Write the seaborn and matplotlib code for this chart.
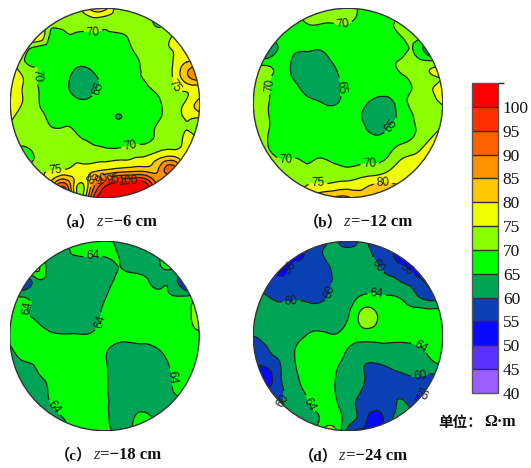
import numpy as np
import matplotlib
matplotlib.use("Agg")
import matplotlib.pyplot as plt
import matplotlib.tri as mtri
from matplotlib.patches import Circle
from matplotlib.cm import ScalarMappable
from matplotlib.colors import BoundaryNorm, ListedColormap
import seaborn as sns

sns.set_theme(style="white")

levels = [40, 45, 50, 55, 60, 65, 70, 75, 80, 85, 90, 95, 100, 110]
band_colors = ["#9a60ff", "#5a30ff", "#0808ff", "#0a40b4", "#00a456", "#00ff00", "#8cff00",
               "#f0ff00", "#ffc800", "#ff9000", "#ff6000", "#ff3000", "#ff0000"]

captions = ["（a）", "（b）", "（c）", "（d）"]
depths = ["=−6 cm", "=−12 cm", "=−18 cm", "=−24 cm"]

res_a = [
 [72,72,72,72,72,74,82,82,72,72,72,72,72,72,72],
 [72,72,72,72,72,72,72.5,72,72,72,72,69,72,72,72],
 [72,72,80,69,69,69.5,69.7,69.5,69.5,71,72,72,75,75.5,76],
 [72,72,68,68,68,68,68,68,68,70,72,73,75.3,76,78],
 [78,70.5,68.5,67.5,67,66,66.5,67.5,68,69,71,73,75,80,80],
 [80,74.5,70,68,66.5,63.5,64,66.5,68,69.5,70.5,73,75.3,84,88],
 [80,74.5,70.3,68,66,63.5,64,66,67.5,68,69.3,71,74,76,76],
 [80,74.5,70.5,68,67,66,66,67,67.5,68,68,69.5,73,76,84],
 [78,71.5,71,69,68.5,68.5,67.5,67,64.8,67,68,69.5,73,75.5,76],
 [72,72,72,70.5,70.3,69.5,68,68,67.5,68,68.5,71,73,75,72],
 [72,71,72,72,71.5,71,70,68.8,68.5,69.5,70,72,73.5,76,78],
 [68,67,71,73,73.5,73,72.5,73.5,74,74.5,75.5,79,81,76,74],
 [72,72,74,75,76,77,79,81,83,84,84,86,92,75,74],
 [74,74,76,82,92,75,85,98,103,104,102,86,78,74,74],
 [74,74,78,92,104,70,92,104,106,106,104,88,78,74,74],
]
res_b = [
 [68,68,68,68,72,72,72,72,69,68,68,72,75,75,75],
 [68,68,68,68,70.5,70.5,70.5,70.5,68.5,68,69.5,71,74,75,75],
 [68,68,68,67.5,67.5,67.5,67.5,67.5,67.5,68,68.5,70.5,72,70,68],
 [62,60,66,66,65.5,65.3,67,67.5,67.5,68,68.5,68.5,69,60,60],
 [71,68,68,64,63,63,65.5,67,67.5,68,69,71,71.5,71.5,76],
 [72,71,68,64.5,63,62.5,64,67,67.5,68,69,69.7,71.5,74.5,76],
 [72,70.7,68,66.5,63.5,62.5,63.5,66.5,67,67.5,68,69,70.5,74,78],
 [72,70.5,68,67.5,66.5,65.2,64.6,66.5,66,63.5,63,68.5,70.5,72,76],
 [72,70.5,68,67.5,67.5,67,67,67,65,62.5,63,67,70.5,72,73],
 [72,70.5,68,68,68,67.5,67.5,67.5,66.5,63.5,65.3,67.5,70,73,76],
 [72,70.2,68.5,68,68,68,68,68,68,68,68.5,70,72,76,78],
 [71,71,69.8,69.9,69.5,69.9,69,68.5,69,69.3,70.3,74.5,76,78,78],
 [72,72,71,71,71,71.5,71.5,71,72,72.5,75,78.5,78,78,78],
 [72,72,72,72.5,74.8,75.5,76,77,78,80.3,80.5,80,80,80,80],
 [72,72,72,73,78,84,86,86,82,86,84,82,80,80,80],
]
res_c = [
 [62,62,62,62,62,67,67,67,63.5,63,63,63,63,63,63],
 [62,62,62,62,64,65.3,65.3,65.5,65,63,63,64,78,62,62],
 [62,62,71,62,63,63,63,63,65,64,63.5,64,66,60,60],
 [58,55,63,63,63,63,63,63.5,66,67,66,64,63,54,54],
 [66,64,63,62.5,62.5,62.5,63,64.5,67,67.5,67.5,66.5,65,64.5,67],
 [67,65.5,64,63,63,63,63.5,65.5,67,67.5,67.5,67.5,67.5,68,76],
 [68,67,65.2,63.5,63,63,63.5,65.8,67,67.5,67.5,67.5,67.5,68,74],
 [67,67,67,65.8,65.5,65.5,65.6,66.5,66.5,66.5,67,67.5,67.5,67.5,68],
 [64,67,67,67,67.5,67.5,67,65.7,63.5,63.5,63.5,65,67,67.5,67.5],
 [62,64.5,65.5,67,67.5,67.5,67,65.5,63,62.5,62.5,63,66,67.5,67.5],
 [62,63,64.5,66,67.5,67.5,67,65.7,63,62.5,62.5,63,65,67.5,67.5],
 [62,62.5,63,65.5,67,67.5,67,65.7,63,62.5,62.5,63,64.9,67,67.5],
 [62,62,62.5,64.8,67,67.5,67,65.8,63,62.5,62.5,62.5,63,64,67],
 [62,62,62,62.5,65.3,67.5,67,65.8,63,64,67,62,62,62,62],
 [62,62,62,62,62,71,66,66,63,65,70,62,62,62,62],
]
res_d = [
 [58,58,58,58,58,58,61,57,61,58,58,58,58,58,58],
 [55,55,55,53,56,59.5,62,62,62,59.5,57,52,52,52,52],
 [58,58,53,56.5,57,57.5,61,62,62,61,58,56,52,50,50],
 [58,58,57,57.5,57.5,58,60.5,62,63,63.5,62,59.8,57.5,54,54],
 [61,60,59,59,59,59,61,63,65,65.3,65,64,60.5,57,57],
 [62,61,61,61,61,61,62,64,69.8,69.5,66.5,66,65.5,65,65],
 [63,62,62,62,63,63,63.5,65.5,71,70.5,67,67,67,67,67],
 [60,62,63,63.5,65.3,66,65.3,66.5,67,67,67,67,67,67,67],
 [56,59.5,62,64.7,67,67,67,64.8,63,63,63,63,64,65.5,67],
 [55,57,60,64.5,67,67,66,63,60.5,60,61,62,63,64,66],
 [50,52,59.5,64,66.5,67,65.3,62,60.5,58,58,59,60,59,58],
 [56,56,59,63,65.7,67,65.1,63,60,57.5,58,58,56,57,57],
 [60,60,60,62,64.5,67,65.7,62.5,58.5,57,57,61,56,56,56],
 [62,62,62,62,63,65.5,67,63,58,53,58,62,62,62,62],
 [62,62,62,62,62,69,72,58,54,53,58,62,62,62,62],
]

panel_fields = [res_a, res_b, res_c, res_d]

# layout (pixels of the 531x468 figure)
W, H = 531, 468
centers = [(105, 103), (348, 103), (104.5, 336), (348, 336)]
radius = 95
caption_centers = [(107, 222), (358, 222), (108, 455), (353, 456)]

# contour label anchors, in the pixel frame of the figure
label_anchors = [
    [(93, 33), (37, 75), (131, 149), (97, 88), (172, 88), (55, 168), (92, 177), (102, 180), (113, 180), (128, 180)],
    [(343, 24), (268, 85), (287, 165), (370, 165), (340, 87), (391, 126), (318, 183), (383, 182)],
    [(93, 259), (27, 308), (102, 322), (171, 377), (54, 408)],
    [(290, 268), (407, 269), (378, 265), (330, 292), (291, 301), (377, 293), (420, 347), (420, 373), (424, 390), (287, 402), (303, 407)],
]
label_text = {55: "56", 60: "60", 65: "64"}


def label_for(panel):
    def fmt(v):
        if panel >= 2:
            return label_text.get(int(v), str(int(v)))
        return str(int(v))
    return fmt


grid = np.linspace(-1, 1, 15)
X, Y = np.meshgrid(grid, grid[::-1])
tri = mtri.Triangulation(X.ravel(), Y.ravel())
refiner = mtri.UniformTriRefiner(tri)

fig = plt.figure(figsize=(W / 100, H / 100), dpi=100, facecolor="white")

for k, field in enumerate(panel_fields):
    cx, cy = centers[k]
    ax = fig.add_axes([(cx - radius) / W, 1 - (cy + radius) / H, 2 * radius / W, 2 * radius / H])
    ax.set_xlim(-1, 1)
    ax.set_ylim(-1, 1)
    ax.axis("off")
    z = np.array(field, dtype=float).ravel()
    tri_f, z_f = refiner.refine_field(z, subdiv=3)
    z_f = np.clip(z_f, 40.5, 109)
    disc = Circle((0, 0), 0.997, transform=ax.transData, fc="none", ec="#333333", lw=1.0, zorder=6)
    ax.add_patch(disc)
    filled = ax.tricontourf(tri_f, z_f, levels=levels, colors=band_colors)
    filled.set_clip_path(disc)
    lines = ax.tricontour(tri_f, z_f, levels=levels[:-1], colors="#1c1c1c", linewidths=0.9)
    lines.set_clip_path(disc)
    pts = [((px - cx) / radius, (cy - py) / radius) for px, py in label_anchors[k]]
    labs = ax.clabel(lines, manual=pts, inline=True, inline_spacing=2,
                     fmt=label_for(k), fontsize=8.5, colors="#1c1c1c")
    for t in labs:
        t.set_family("Liberation Sans")

# colour bar
cax = fig.add_axes([472 / W, 1 - 393 / H, 26 / W, 310 / H])
norm = BoundaryNorm(levels, len(band_colors))
sm = ScalarMappable(norm=norm, cmap=ListedColormap(sns.color_palette(band_colors)))
cbar = fig.colorbar(sm, cax=cax, ticks=levels[:-1], spacing="uniform", drawedges=True)
cbar.outline.set_edgecolor("#555555")
cbar.outline.set_linewidth(1.0)
cbar.dividers.set_color("#303030")
cbar.dividers.set_linewidth(1.0)
cax.tick_params(length=0, pad=3.5, labelsize=12.5)
for t in cax.get_yticklabels():
    t.set_family("Liberation Serif")
    t.set_color("#111111")

# captions built of an upright, an italic and an upright run
renderer = fig.canvas.get_renderer()
for (px, py), cap, dep in zip(caption_centers, captions, depths):
    a = fig.text(0, 0, cap, family=["Liberation Serif", "Noto Sans CJK SC"], fontsize=11, weight="bold", color="#111111", va="center")
    b = fig.text(0, 0, "z", family="Liberation Serif", style="italic", fontsize=12, color="#333333", va="center")
    c = fig.text(0, 0, dep, family="Liberation Serif", fontsize=12, weight="bold", color="#111111", va="center")
    wa, wb, wc = [t.get_window_extent(renderer).width for t in (a, b, c)]
    x0 = px - (wa + wb + wc + 2) / 2
    y0 = 1 - py / H
    a.set_position((x0 / W, y0))
    b.set_position(((x0 + wa + 1) / W, y0))
    c.set_position(((x0 + wa + wb + 2) / W, y0))

fig.text(438 / W, 1 - 422 / H, "单位：", family=["Noto Sans CJK SC"], fontsize=10.5, weight="bold", color="#111111", va="center")
fig.text(484 / W, 1 - 422 / H, "Ω·m", family="Liberation Serif", fontsize=11.5, weight="bold", color="#111111", va="center")

fig.savefig("out.png", dpi=100)
